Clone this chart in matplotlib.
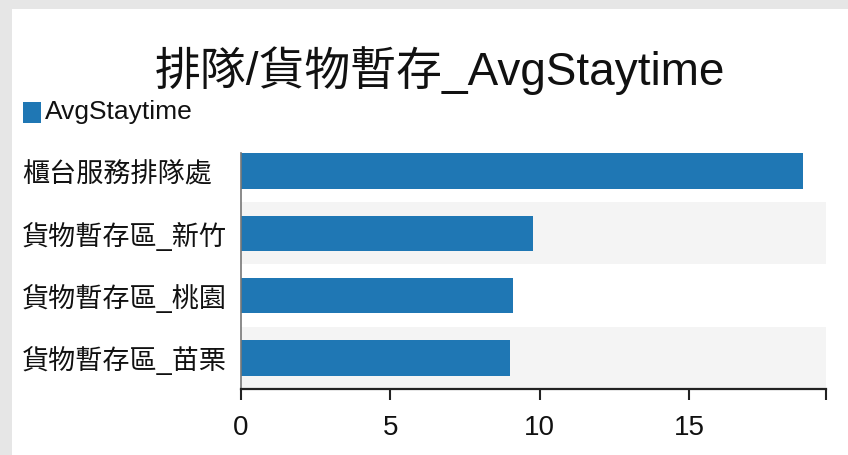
import matplotlib
matplotlib.use("Agg")
import matplotlib.pyplot as plt
from matplotlib.patches import Rectangle

plt.rcParams['font.family'] = ['Liberation Sans', 'Noto Sans CJK TC', 'DejaVu Sans']

# data
categories = ['櫃台服務排隊處', '貨物暫存區_新竹', '貨物暫存區_桃園', '貨物暫存區_苗栗']
avg_staytime = [18.82, 9.78, 9.10, 9.02]
series_name = 'AvgStaytime'
title = '排隊/貨物暫存_AvgStaytime'
x_ticks = [0, 5, 10, 15]
x_max = 19.59

W, H = 848, 455
fig = plt.figure(figsize=(W / 100, H / 100), dpi=100)
fig.patch.set_facecolor('#e6e6e6')


def px(x0, y0, x1, y1):
    """pixel box (top-left origin) -> figure fraction rect"""
    return [x0 / W, 1 - y1 / H, (x1 - x0) / W, (y1 - y0) / H]


# white card
fig.patches.append(Rectangle((12 / W, 0), 1 - 12 / W, 1 - 9 / H, transform=fig.transFigure,
                             facecolor='white', edgecolor='none', zorder=-5))

ax = fig.add_axes(px(241, 140, 826, 389))
ax.set_zorder(2)
ax.set_facecolor('none')

ypos = list(range(len(categories)))
# alternating bands
for i in ypos:
    if i % 2 == 1:
        ax.axhspan(i - 0.5, i + 0.5, color='#f4f4f4', zorder=0, lw=0)

ax.barh(ypos, avg_staytime, height=0.57, color='#1f77b4', zorder=2)

ax.set_ylim(len(categories) - 0.5, -0.5)
ax.set_xlim(0, x_max)

ax.set_yticks(ypos)
ax.set_yticklabels(categories, fontsize=19.5, ha='left', color='#111111')
ax.tick_params(axis='y', length=0, pad=(241 - 22) * 0.72)

ax.set_xticks(x_ticks + [x_max])
ax.set_xticklabels([str(t) for t in x_ticks] + [''], fontsize=20, color='#111111')
ax.tick_params(axis='x', length=8, width=1.5, color='#222222', pad=10.5)

for s in ['top', 'right']:
    ax.spines[s].set_visible(False)
ax.spines['bottom'].set_color('#222222')
ax.spines['bottom'].set_linewidth(1.6)
ax.spines['left'].set_color('#777777')
ax.spines['left'].set_linewidth(1.2)
ax.spines['left'].set_bounds(len(categories) - 0.5, -0.5 + 13 / 62)

# title
fig.text(440 / W, 1 - 71 / H, title, fontsize=33, ha='center', va='center', color='#111111')

# legend
fig.patches.append(Rectangle((23 / W, 1 - 123 / H), 18 / W, 21 / H, transform=fig.transFigure,
                             facecolor='#1f77b4', edgecolor='none'))
fig.text(45 / W, 1 - 112 / H, series_name, fontsize=19, ha='left', va='center', color='#111111')

fig.savefig('out.png', dpi=100, facecolor=fig.get_facecolor())
